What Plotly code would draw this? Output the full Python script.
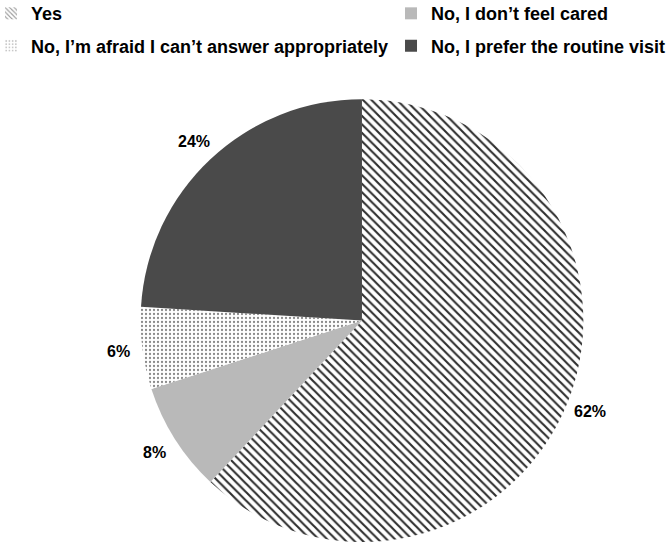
import math
import plotly.graph_objects as go

labels = ["Yes", "No, I don\u2019t feel cared", "No, I\u2019m afraid I can\u2019t answer appropriately", "No, I prefer the routine visit"]
values = [62, 8, 6, 24]
colors = ["white", "#b9b9b9", "white", "#4a4a4a"]
shapes = ["\\", "", ".", ""]
fgcolors = ["#2e2e2e", "#b9b9b9", "#8a8a8a", "#4a4a4a"]
psizes = [6, 6, 4, 6]
solid = [0.35, 0.3, 0.25, 0.3]

FONT = "Liberation Sans"
W, H = 670, 542
DOM_X = [0.0925, 0.988]
DOM_Y = [0.0, 0.817]

fig = go.Figure()
fig.add_trace(go.Pie(
    labels=labels, values=values, sort=False, direction="clockwise", rotation=0,
    marker=dict(colors=colors, line=dict(width=0),
                pattern=dict(shape=shapes, fgcolor=fgcolors, bgcolor=colors, size=psizes, solidity=solid)),
    textinfo="none",
    domain=dict(x=DOM_X, y=DOM_Y),
    hoverinfo="skip", showlegend=False,
))

# percentage labels placed outside each slice at its mid-angle
cx = (DOM_X[0] + DOM_X[1]) / 2 * W
cy = (1 - (DOM_Y[0] + DOM_Y[1]) / 2) * H
rad = min((DOM_X[1] - DOM_X[0]) * W, (DOM_Y[1] - DOM_Y[0]) * H) / 2
total = sum(values)
cum = 0
for v in values:
    mid = (cum + v / 2) / total * 2 * math.pi
    cum += v
    px = cx + math.sin(mid) * rad * 1.11
    py = cy - math.cos(mid) * rad * 1.11
    fig.add_annotation(x=px / W, y=1 - py / H, xref="paper", yref="paper",
                       text=f"{v}%", showarrow=False, xanchor="center", yanchor="middle",
                       font=dict(family=FONT, size=16, color="black", weight="bold"))

# legend entries (one legend per entry, laid out in 2 columns like the reference)
legend_names = ["legend", "legend2", "legend3", "legend4"]
legend_pos = [(-0.0134, 1.009), (0.5836, 1.009), (-0.0134, 0.949), (0.5836, 0.949)]
for i, lab in enumerate(labels):
    fig.add_trace(go.Bar(
        x=[None], y=[None], name=lab, legend=legend_names[i],
        marker=dict(color=colors[i], line=dict(width=0),
                    pattern=dict(shape=shapes[i], fgcolor=fgcolors[i], bgcolor=colors[i],
                                 size=4, solidity=solid[i])),
        showlegend=True, hoverinfo="skip",
    ))

legend_common = dict(orientation="v", xanchor="left", yanchor="top", bgcolor="rgba(0,0,0,0)",
                     font=dict(family=FONT, size=18, color="black", weight="bold"),
                     itemwidth=30, borderwidth=0)
layout_legends = {}
for name, (lx, ly) in zip(legend_names, legend_pos):
    layout_legends[name] = dict(x=lx, y=ly, **legend_common)

fig.update_layout(
    width=W, height=H, margin=dict(l=0, r=0, t=0, b=0, autoexpand=False),
    paper_bgcolor="white", plot_bgcolor="white",
    showlegend=True,
    xaxis=dict(visible=False), yaxis=dict(visible=False),
    **layout_legends,
)
fig.write_html("out.html")
